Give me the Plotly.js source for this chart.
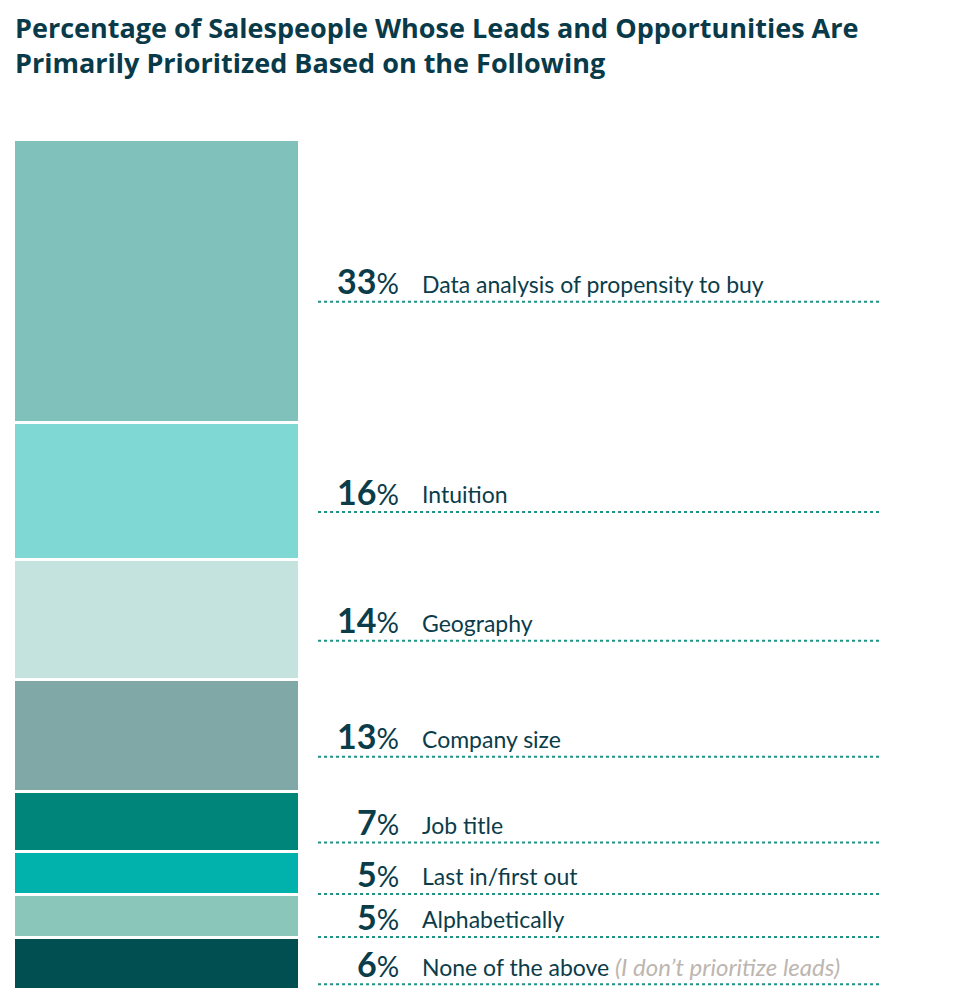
<!DOCTYPE html>
<html>
<head>
<meta charset="utf-8">
<script src="https://cdn.plot.ly/plotly-3.0.1.min.js"></script>
<style>html,body{margin:0;padding:0;background:#fff;}#chart{width:954px;height:1004px;}</style>
</head>
<body>
<div id="chart"></div>
<script>
// Data (bottom of stack first)
const categories = ["None of the above", "Alphabetically", "Last in/first out", "Job title", "Company size", "Geography", "Intuition", "Data analysis of propensity to buy"];
const values = [6, 5, 5, 7, 13, 14, 16, 33];
const notes = [" (I don’t prioritize leads)", "", "", "", "", "", "", ""];
const colors = ["#014f50", "#8ac6ba", "#00b2ab", "#00857a", "#7fa8a6", "#c4e3de", "#80d8d5", "#81c1bb"];

const W = 954, H = 1004;
const mL = 13, mR = 0, mT = 139, mB = 15;
const plotW = W - mL - mR;
const px = v => (v - mL) / plotW; // pixel -> paper x

const total = values.reduce((a, b) => a + b, 0);
const traces = categories.map((c, i) => ({
  type: 'bar',
  x: [0],
  y: [values[i]],
  width: 1,
  name: c,
  marker: {color: colors[i], line: {color: '#ffffff', width: 3}},
  hoverinfo: 'skip',
  showlegend: false
}));

const dark = '#0b3c4a';
const annotations = [];
const shapes = [];
let cum = 0;
values.forEach((v, i) => {
  const center = cum + v / 2;
  cum += v;
  annotations.push({
    xref: 'paper', yref: 'y', x: px(401), y: center, yshift: 0,
    xanchor: 'right', yanchor: 'middle', showarrow: false,
    text: '<b>' + v + '</b><span style="font-size:28px">%</span>',
    font: {family: 'Lato, sans-serif', size: 34, color: dark}
  });
  let label = categories[i];
  if (notes[i]) label += '<i><span style="color:#bdb6b0;font-size:24px">' + notes[i] + '</span></i>';
  annotations.push({
    xref: 'paper', yref: 'y', x: px(420), y: center, yshift: -3,
    xanchor: 'left', yanchor: 'middle', showarrow: false,
    text: label,
    font: {family: 'Lato, sans-serif', size: 23, color: dark}
  });
  shapes.push({
    type: 'line', xref: 'paper', yref: 'y',
    ysizemode: 'pixel', yanchor: center,
    x0: px(318), x1: px(879), y0: -21, y1: -21,
    line: {color: '#1f9486', width: 2, dash: 'dot'}
  });
});

const layout = {
  width: W, height: H,
  margin: {l: mL, r: mR, t: mT, b: mB, pad: 0},
  paper_bgcolor: '#ffffff', plot_bgcolor: '#ffffff',
  barmode: 'stack',
  title: {
    text: '<b>Percentage of Salespeople Whose Leads and Opportunities Are<br>Primarily Prioritized Based on the Following</b>',
    font: {family: '"Open Sans", sans-serif', size: 27, color: '#083a4a'},
    xref: 'container', yref: 'container', x: 15 / W, xanchor: 'left',
    y: 1 - 38 / H, yanchor: 'top'
  },
  xaxis: {domain: [0, 286 / plotW], range: [-0.5, 0.5], visible: false, fixedrange: true},
  yaxis: {range: [0, total], visible: false, fixedrange: true},
  annotations: annotations,
  shapes: shapes
};

Plotly.newPlot('chart', traces, layout, {displayModeBar: false, staticPlot: true});
</script>
</body>
</html>
